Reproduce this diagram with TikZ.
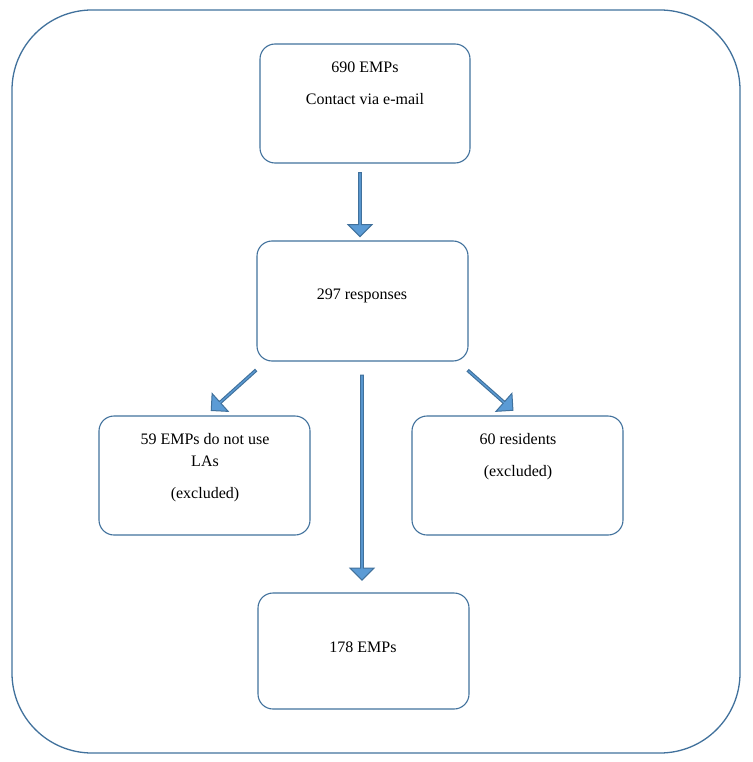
\documentclass[tikz,border=0pt]{standalone}
\usepackage{fontspec}
\setmainfont{Liberation Serif}
\usetikzlibrary{shapes.arrows}
\definecolor{edgeblue}{HTML}{41719C}
\definecolor{fillblue}{HTML}{5B9BD5}
\begin{document}
\begin{tikzpicture}[x=1pt,y=-1pt,
  box/.style={draw=edgeblue,line width=1.1pt,rounded corners=15pt},
  txt/.style={font=\fontsize{16}{19}\selectfont,inner sep=0pt,anchor=center},
  barrow/.style={single arrow,draw=edgeblue,fill=fillblue,line width=1pt,minimum width=24pt,single arrow head extend=6pt,inner sep=0pt,shape border uses incircle}]
\useasboundingbox (0,0) rectangle (752,762);
\draw[draw=edgeblue,line width=1.3pt,rounded corners=80pt] (12,10) rectangle (740,753);
\draw[box] (260,44) rectangle (470,163);
\draw[box] (257,241) rectangle (468,361);
\draw[box] (99,416) rectangle (310,535);
\draw[box] (412,416) rectangle (623,535);
\draw[box] (258,593) rectangle (469,709);
\node[txt] (t1a) at (365,67) {690 EMPs};
\node[txt] (t1b) at (365,99) {Contact via e-mail};
\node[txt] (t2) at (362,296) {297 responses};
\node[txt] (t3a) at (205,439) {59 EMPs do not use};
\node[txt] (t3b) at (205,461) {LAs};
\node[txt] (t3c) at (205,495) {(excluded)};
\node[txt] (t4a) at (518,439) {60 residents};
\node[txt] (t4b) at (518,473) {(excluded)};
\node[txt] (t5) at (363,647) {178 EMPs};
\node[barrow,minimum height=64pt,rotate=-90] (a1) at (360,204) {};
\node[barrow,minimum height=60pt,rotate=222] (a2) at (234,390) {};
\node[barrow,minimum height=205pt,rotate=-90] (a3) at (362,477) {};
\node[barrow,minimum height=60pt,rotate=-41.5] (a4) at (490,390) {};
\end{tikzpicture}
\end{document}
